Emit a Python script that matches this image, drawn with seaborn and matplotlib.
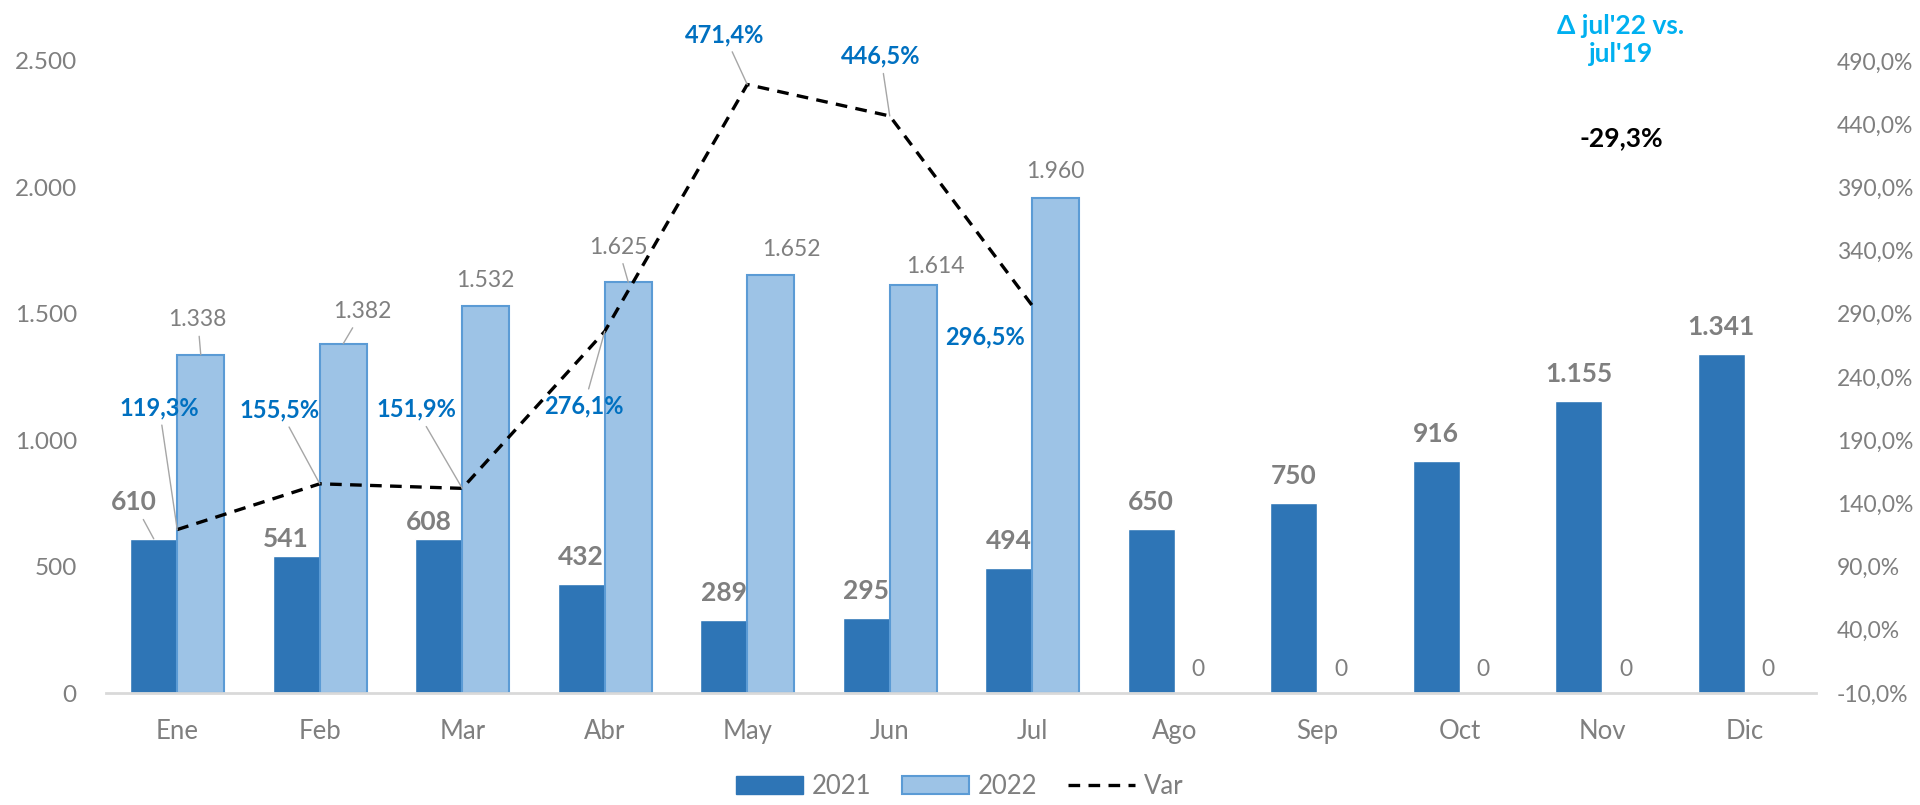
import numpy as np
import pandas as pd
import matplotlib
matplotlib.use("Agg")
import matplotlib.pyplot as plt
from matplotlib.patches import Patch
from matplotlib.lines import Line2D
import seaborn as sns

# ---------- data ---------- #
months = ['Ene', 'Feb', 'Mar', 'Abr', 'May', 'Jun', 'Jul', 'Ago', 'Sep', 'Oct', 'Nov', 'Dic']
v2021 = [610, 541, 608, 432, 289, 295, 494, 650, 750, 916, 1155, 1341]
v2022 = [1338, 1382, 1532, 1625, 1652, 1614, 1960, 0, 0, 0, 0, 0]
var_pct = [119.3, 155.5, 151.9, 276.1, 471.4, 446.5, 296.5]
delta_title = "Δ jul'22 vs.\njul'19"
delta_value = "-29,3%"

# label placement (pixel offsets from the mark, and whether a leader line is drawn)
off2021 = [(-20, 37, True), (-10, 17, False), (-10, 17, False)] + [(0, 27, False)] * 9
off2022 = [(-3, 35, True), (19, 32, True), (0, 25, False), (-10, 35, True),
           (21, 26, False), (22, 18, False), (0, 26, False)] + [(0, 24, False)] * 5
offvar = [(-18, 122, True), (-40, 74, True), (-46, 79, True), (-21, -75, True),
          (-23, 50, True), (-9, 60, True), (-47, -31, False)]

c21 = '#2E75B6'
c22 = '#9DC3E6'
c22_edge = '#5B9BD5'
grey = '#7F7F7F'
blue_lbl = '#0070C0'
leader = '#A6A6A6'

sns.set_theme(style='white')
plt.rcParams['font.family'] = ['Lato', 'DejaVu Sans']

df = pd.DataFrame({'mes': months * 2,
                   'serie': ['2021'] * 12 + ['2022'] * 12,
                   'valor': v2021 + v2022})

fig = plt.figure(figsize=(19.2, 8.05), dpi=100)
ax = fig.add_axes([106 / 1920, 1 - 693 / 805, 1710 / 1920, 632 / 805])

sns.barplot(data=df, x='mes', y='valor', hue='serie', palette=[c21, c22],
            width=0.66, gap=0, saturation=1, legend=False, ax=ax)

for b in ax.containers[1]:
    if b.get_height() > 0:
        b.set_edgecolor(c22_edge)
        b.set_linewidth(1.5)

ax.set_ylim(0, 2500)
ax.set_xlim(-0.5, 11.5)
ax.set_yticks(np.arange(0, 2501, 500))
ax.set_yticklabels([f'{v:,.0f}'.replace(',', '.') for v in np.arange(0, 2501, 500)])
ax.set_xlabel('')
ax.set_ylabel('')
for s in ['top', 'right', 'left']:
    ax.spines[s].set_visible(False)
ax.spines['bottom'].set_color('#D9D9D9')
ax.spines['bottom'].set_linewidth(2)
ax.tick_params(axis='y', length=0, pad=21, labelsize=17.5, labelcolor=grey)
ax.tick_params(axis='x', length=0, pad=19, labelsize=18.5, labelcolor=grey)

# secondary axis with the variation line
ax2 = ax.twinx()
sns.lineplot(x=np.arange(len(var_pct)), y=var_pct, ax=ax2, color='black',
             linewidth=2.4, linestyle=(0, (3.5, 2.5)))
ax2.set_ylim(-10, 490)
rt = np.arange(-10, 491, 50)
ax2.set_yticks(rt)
ax2.set_yticklabels([f'{v:.1f}%'.replace('.', ',') for v in rt])
ax2.tick_params(axis='y', length=0, pad=15, labelsize=16.5, labelcolor=grey)
for s in ax2.spines.values():
    s.set_visible(False)
ax2.set_ylabel('')


def label(axis, text, xy, off, **kw):
    dx, dy, lead = off
    arrow = dict(arrowstyle='-', color=leader, lw=1, shrinkA=2, shrinkB=0) if lead else None
    axis.annotate(text, xy=xy, xytext=(dx, dy), textcoords='offset pixels',
                  ha='center', va='center', arrowprops=arrow, **kw)


for b, o in zip(ax.containers[0], off2021):
    h = b.get_height()
    label(ax, f'{h:,.0f}'.replace(',', '.'), (b.get_x() + b.get_width() / 2, h), o,
          fontsize=19, fontweight='bold', color=grey)

for b, o in zip(ax.containers[1], off2022):
    h = b.get_height()
    label(ax, f'{h:,.0f}'.replace(',', '.'), (b.get_x() + b.get_width() / 2, h), o,
          fontsize=16.5, color=grey)

for i, (v, o) in enumerate(zip(var_pct, offvar)):
    label(ax2, f'{v:.1f}%'.replace('.', ','), (i, v), o,
          fontsize=17, fontweight='bold', color=blue_lbl)

fig.text(1621 / 1920, 1 - 40 / 805, delta_title, ha='center', va='center',
         fontsize=19, fontweight='bold', color='#00B0F0', linespacing=1.2)
fig.text(1621 / 1920, 1 - 138 / 805, delta_value, ha='center', va='center',
         fontsize=19, fontweight='bold', color='black')

handles = [Patch(facecolor=c21, edgecolor=c21),
           Patch(facecolor=c22, edgecolor=c22_edge, linewidth=1.5),
           Line2D([], [], color='black', linewidth=2.4, linestyle=(0, (3.5, 2.5)))]
fig.legend(handles, ['2021', '2022', 'Var'], loc='center', bbox_to_anchor=(0.5, 1 - 786 / 805),
           ncol=3, frameon=False, fontsize=18.5, labelcolor=grey,
           handlelength=2.6, handleheight=0.7, handletextpad=0.35, columnspacing=1.2)

fig.savefig('out.png', dpi=100)
